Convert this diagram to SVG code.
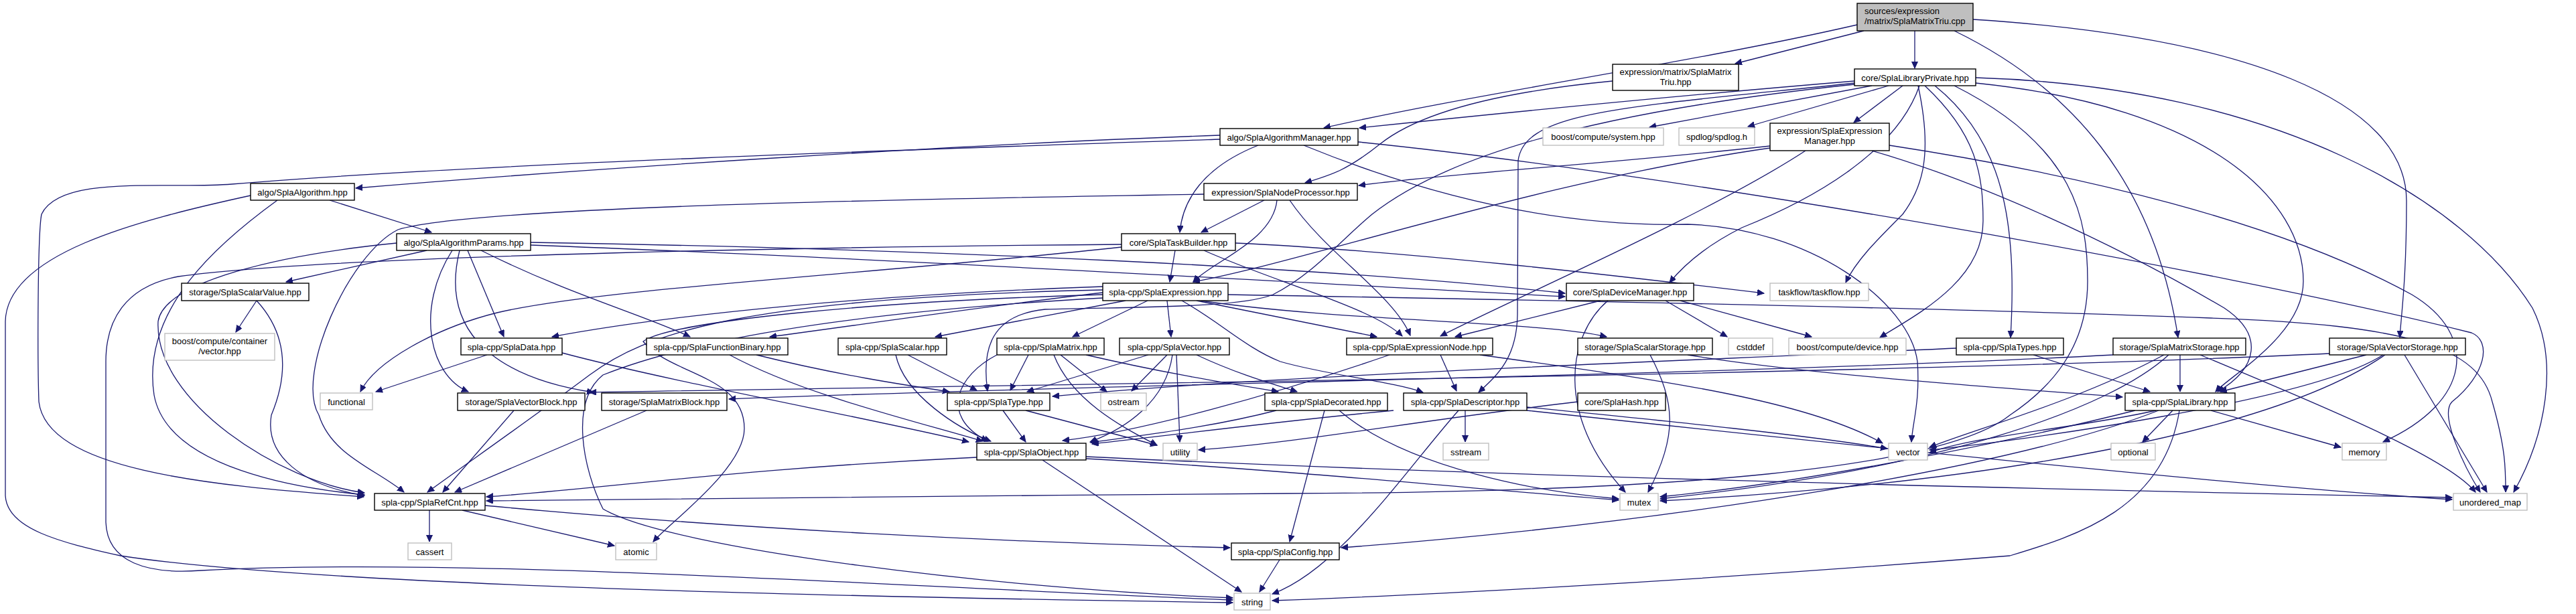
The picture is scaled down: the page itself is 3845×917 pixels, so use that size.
<svg xmlns="http://www.w3.org/2000/svg" width="3845" height="917" viewBox="0 0 3845 917">
<style>
.n rect{fill:#fff;stroke:#000;stroke-width:1.4}
.x rect{fill:#fff;stroke:#bfbfbf;stroke-width:1.4}
.r rect{fill:#bfbfbf;stroke:#000;stroke-width:1.4}
text{font-family:"Liberation Sans",Arial,sans-serif;font-size:13px;fill:#000;text-anchor:middle}
.l text{text-anchor:start}
#edges path{fill:none;stroke:#191970;stroke-width:1.3;marker-end:url(#a)}
</style>
<defs>
<marker id="a" markerWidth="12" markerHeight="10" refX="10" refY="4.5" orient="auto" markerUnits="userSpaceOnUse"><path d="M0,0 L10,4.5 L0,9 z" fill="#191970" stroke="#191970" stroke-width="1"/></marker>
</defs>
<rect width="3845" height="917" fill="#fff"/>
<g id="edges">
<path d="M2772,37 C2520,95 2200,140 1976,191"/>
<path d="M2782,46 L2590,95"/>
<path d="M2858,46 L2858,102"/>
<path d="M2917,46 C3090,130 3215,270 3251,504"/>
<path d="M2945,29 C3350,55 3592,150 3592,300 C3592,420 3584,470 3582,504"/>
<path d="M2407,121 C2210,140 2110,175 2060,215 C2010,255 1985,262 1948,273"/>
<path d="M2768,121 C2480,145 2230,170 2029,191"/>
<path d="M2794,128 L2462,190"/>
<path d="M2819,128 L2609,189"/>
<path d="M2840,128 L2767,183"/>
<path d="M2768,124 C2430,160 2275,165 2266,240 L2265,470 C2264,535 2235,560 2207,586"/>
<path d="M2768,126 C2350,170 2150,240 2048,320 C2000,360 1960,410 1900,440 C1850,460 1700,458 1560,462 C1480,470 1465,520 1474,584"/>
<path d="M2865,128 C2830,230 2700,300 2600,340 C2540,370 2510,400 2492,422"/>
<path d="M2863,128 C2885,230 2870,280 2840,320 C2800,360 2770,390 2755,422"/>
<path d="M2873,128 C2950,200 2960,260 2960,330 C2960,420 2860,470 2806,504"/>
<path d="M2888,128 C2990,210 3011,330 3001,504"/>
<path d="M2917,128 C3100,220 3116,330 3116,420 C3116,520 3060,580 3000,620 C2900,700 2500,735 1920,737 C1500,740 1000,745 726,748"/>
<path d="M2949,124 C3300,160 3438,300 3438,420 C3438,500 3330,560 3307,585"/>
<path d="M2949,116 C3400,130 3680,300 3780,460 C3820,540 3800,650 3752,735"/>
<path d="M1821,202 C1450,215 900,250 531,281"/>
<path d="M1821,208 C1400,222 700,245 346,275 C250,283 90,260 62,320 C56,350 56,540 58,600 C70,700 300,725 543,742"/>
<path d="M1878,217 C1795,250 1765,300 1761,347"/>
<path d="M2027,212 C2500,260 3300,400 3689,497 C3720,510 3710,560 3660,600 C3640,620 3680,700 3702,735"/>
<path d="M1946,217 C2100,280 2300,340 2519,335 C2700,340 2850,450 2862,540 C2866,600 2855,630 2853,660"/>
<path d="M1887,299 L1793,347"/>
<path d="M1906,299 C1900,360 1810,390 1781,421"/>
<path d="M1925,299 C1980,380 2080,440 2105,501"/>
<path d="M1797,290 C1300,298 700,310 594,343 C520,380 440,560 476,620 C495,680 560,700 603,735"/>
<path d="M2642,218 C2400,245 2150,260 2028,277"/>
<path d="M2642,221 C2300,270 1950,390 1781,421"/>
<path d="M2695,225 C2550,320 2250,450 2150,502"/>
<path d="M2794,225 C2950,270 3150,360 3320,460 C3380,500 3370,550 3310,585"/>
<path d="M2820,217 C3100,260 3400,330 3600,440 C3700,500 3690,600 3557,660"/>
<path d="M492,299 L644,347"/>
<path d="M374,292 C200,330 10,380 8,480 L8,740 C10,790 90,810 180,830 C500,880 1500,895 1840,900"/>
<path d="M414,299 C330,360 210,460 230,590 C250,700 450,730 544,739"/>
<path d="M637,374 L427,421"/>
<path d="M698,374 L752,503"/>
<path d="M718,374 C850,440 960,470 1030,503"/>
<path d="M675,374 C620,460 640,560 699,585"/>
<path d="M686,374 C650,520 780,570 886,586"/>
<path d="M592,363 C420,380 245,420 236,480 C230,600 420,720 544,736"/>
<path d="M792,362 C1400,372 2000,400 2336,438"/>
<path d="M792,366 C1300,385 1900,420 2336,443"/>
<path d="M1754,374 L1746,421"/>
<path d="M1844,363 C2100,375 2400,410 2633,438"/>
<path d="M1674,369 C1300,410 900,430 742,467 C650,490 560,540 538,585"/>
<path d="M1674,365 C1300,368 500,380 266,413 C185,428 158,480 158,540 L158,780 C160,840 220,858 300,852 C700,830 1400,880 1840,896"/>
<path d="M1797,374 C1900,420 2050,460 2093,502"/>
<path d="M383,449 L352,496"/>
<path d="M383,449 C430,500 430,560 405,620 C395,680 450,725 544,740"/>
<path d="M1646,428 C1300,440 1000,470 824,503"/>
<path d="M1646,437 C1450,460 1250,490 1149,503"/>
<path d="M1680,449 L1396,503"/>
<path d="M1713,449 L1601,503"/>
<path d="M1742,449 L1748,503"/>
<path d="M1646,433 C1100,445 960,500 880,560 C800,620 700,690 638,735"/>
<path d="M1764,449 C1820,480 1860,520 1911,540 C1980,560 2080,570 2124,586"/>
<path d="M1786,449 L2055,503"/>
<path d="M1792,449 C2000,480 2300,480 2398,503"/>
<path d="M1833,440 C2300,448 2900,460 3300,475 C3600,485 3700,520 3720,600 C3740,670 3740,700 3740,735"/>
<path d="M1646,440 C1300,450 1000,480 960,510 C1000,560 1111,560 1111,640 C1111,700 1000,780 975,809"/>
<path d="M1646,445 C1200,470 1000,520 900,560 C850,600 870,700 900,760 C1000,820 1500,880 1840,893"/>
<path d="M727,530 L561,585"/>
<path d="M839,527 C1000,570 1300,625 1446,660"/>
<path d="M1129,530 C1250,560 1350,575 1417,585"/>
<path d="M1089,530 C1200,590 1370,630 1467,659"/>
<path d="M1355,530 L1458,583"/>
<path d="M1337,530 C1350,590 1430,640 1479,659"/>
<path d="M1535,530 L1508,583"/>
<path d="M1488,530 C1430,560 1400,620 1474,659"/>
<path d="M1583,530 L1652,585"/>
<path d="M1573,530 C1600,600 1680,640 1727,665"/>
<path d="M1621,530 C1750,560 1850,575 1908,585"/>
<path d="M1714,530 L1533,585"/>
<path d="M1742,530 L1689,584"/>
<path d="M1756,530 L1761,660"/>
<path d="M1750,530 C1740,600 1680,640 1627,660"/>
<path d="M1786,530 C1850,560 1905,575 1936,585"/>
<path d="M2074,530 C1900,590 1700,645 1586,658"/>
<path d="M2150,530 L2174,584"/>
<path d="M2209,530 C2500,570 2700,600 2810,662"/>
<path d="M2389,449 L2172,503"/>
<path d="M2486,449 L2578,503"/>
<path d="M2508,449 L2704,503"/>
<path d="M2400,449 C2340,500 2320,620 2426,735"/>
<path d="M2463,530 C2500,600 2505,650 2460,735"/>
<path d="M2519,530 C2700,560 3000,580 3168,593"/>
<path d="M3035,530 L3209,585"/>
<path d="M2920,520 C2500,540 1900,560 1571,592"/>
<path d="M3254,530 L3254,585"/>
<path d="M3154,530 C2600,560 1600,575 1088,596"/>
<path d="M3230,530 C3100,600 2950,640 2880,668"/>
<path d="M3237,530 C3150,610 2900,700 2478,745"/>
<path d="M3284,530 C3450,600 3650,680 3695,735"/>
<path d="M3532,530 L3314,585"/>
<path d="M3477,528 C2800,560 1500,575 880,586"/>
<path d="M3557,530 C3450,600 3000,660 2880,672"/>
<path d="M3560,530 C3400,640 3000,720 2478,748"/>
<path d="M3589,530 L3712,735"/>
<path d="M3218,613 C3100,640 2950,650 2880,676"/>
<path d="M3187,613 C3000,660 2700,720 2478,742"/>
<path d="M3222,613 C3000,700 2500,780 2002,818"/>
<path d="M3253,613 C3230,760 3100,800 3000,830 C2500,870 2100,890 1899,897"/>
<path d="M3243,613 L3198,660"/>
<path d="M3300,613 L3494,668"/>
<path d="M1497,613 L1531,660"/>
<path d="M1531,613 L1727,665"/>
<path d="M1905,613 C1800,640 1700,650 1628,661"/>
<path d="M1977,613 L1925,809"/>
<path d="M1999,613 C2100,700 2300,735 2416,745"/>
<path d="M2080,613 C1900,630 1750,650 1630,663"/>
<path d="M2187,613 L2187,660"/>
<path d="M2177,613 C2100,700 2000,850 1899,887"/>
<path d="M2279,608 C2500,630 2700,650 2817,670"/>
<path d="M2279,613 C2900,680 3400,730 3660,746"/>
<path d="M2355,600 C2100,630 1950,660 1789,672"/>
<path d="M1458,683 C1100,700 900,730 726,742"/>
<path d="M1556,687 L1853,884"/>
<path d="M1621,685 C1900,700 2200,730 2416,747"/>
<path d="M1621,682 C2200,710 3000,730 3660,743"/>
<path d="M641,762 L641,809"/>
<path d="M690,762 L917,815"/>
<path d="M724,755 C1100,790 1500,810 1836,818"/>
<path d="M1910,836 L1880,884"/>
<path d="M767,613 L661,735"/>
<path d="M965,613 L679,735"/>
</g>
<g id="n-cpp" class="r l"><rect x="2772" y="5" width="173" height="41"/><text x="2783" y="21">sources/expression</text><text x="2783" y="36">/matrix/SplaMatrixTriu.cpp</text></g>
<g id="n-triu" class="n"><rect x="2407" y="96" width="188" height="39"/><text x="2501" y="112">expression/matrix/SplaMatrix</text><text x="2501" y="127">Triu.hpp</text></g>
<g id="n-libpriv" class="n"><rect x="2768" y="103" width="181" height="25"/><text x="2858.5" y="120.5">core/SplaLibraryPrivate.hpp</text></g>
<g id="n-algomgr" class="n"><rect x="1821" y="192" width="206" height="25"/><text x="1924" y="209.5">algo/SplaAlgorithmManager.hpp</text></g>
<g id="n-bsys" class="x"><rect x="2303" y="191" width="180" height="26"/><text x="2393" y="208.5">boost/compute/system.hpp</text></g>
<g id="n-spdlog" class="x"><rect x="2506" y="191" width="113" height="26"/><text x="2562.5" y="208.5">spdlog/spdlog.h</text></g>
<g id="n-exprmgr" class="n"><rect x="2642" y="184" width="178" height="41"/><text x="2731" y="200">expression/SplaExpression</text><text x="2731" y="215">Manager.hpp</text></g>
<g id="n-algo" class="n"><rect x="374" y="274" width="155" height="25"/><text x="451.5" y="291.5">algo/SplaAlgorithm.hpp</text></g>
<g id="n-nodeproc" class="n"><rect x="1797" y="274" width="229" height="25"/><text x="1911.5" y="291.5">expression/SplaNodeProcessor.hpp</text></g>
<g id="n-params" class="n"><rect x="592" y="349" width="200" height="25"/><text x="692" y="366.5">algo/SplaAlgorithmParams.hpp</text></g>
<g id="n-task" class="n"><rect x="1674" y="349" width="170" height="25"/><text x="1759" y="366.5">core/SplaTaskBuilder.hpp</text></g>
<g id="n-scalval" class="n"><rect x="271" y="423" width="190" height="26"/><text x="366" y="440.5">storage/SplaScalarValue.hpp</text></g>
<g id="n-expr" class="n"><rect x="1646" y="423" width="187" height="26"/><text x="1739.5" y="440.5">spla-cpp/SplaExpression.hpp</text></g>
<g id="n-devmgr" class="n"><rect x="2338" y="423" width="190" height="26"/><text x="2433" y="440.5">core/SplaDeviceManager.hpp</text></g>
<g id="n-taskflow" class="x"><rect x="2642" y="423" width="147" height="26"/><text x="2715.5" y="440.5">taskflow/taskflow.hpp</text></g>
<g id="n-bcvec" class="x"><rect x="246" y="498" width="164" height="40"/><text x="328" y="514">boost/compute/container</text><text x="328" y="529">/vector.hpp</text></g>
<g id="n-data" class="n"><rect x="688" y="505" width="151" height="25"/><text x="763.5" y="522.5">spla-cpp/SplaData.hpp</text></g>
<g id="n-fbin" class="n"><rect x="965" y="505" width="211" height="25"/><text x="1070.5" y="522.5">spla-cpp/SplaFunctionBinary.hpp</text></g>
<g id="n-scalar" class="n"><rect x="1251" y="505" width="162" height="25"/><text x="1332" y="522.5">spla-cpp/SplaScalar.hpp</text></g>
<g id="n-matrix" class="n"><rect x="1488" y="505" width="160" height="25"/><text x="1568" y="522.5">spla-cpp/SplaMatrix.hpp</text></g>
<g id="n-vectorh" class="n"><rect x="1671" y="505" width="164" height="25"/><text x="1753" y="522.5">spla-cpp/SplaVector.hpp</text></g>
<g id="n-exprnode" class="n"><rect x="2010" y="505" width="218" height="25"/><text x="2119" y="522.5">spla-cpp/SplaExpressionNode.hpp</text></g>
<g id="n-scalstor" class="n"><rect x="2355" y="505" width="201" height="25"/><text x="2455.5" y="522.5">storage/SplaScalarStorage.hpp</text></g>
<g id="n-cstddef" class="x"><rect x="2580" y="505" width="66" height="25"/><text x="2613" y="522.5">cstddef</text></g>
<g id="n-bdev" class="x"><rect x="2670" y="505" width="175" height="25"/><text x="2757.5" y="522.5">boost/compute/device.hpp</text></g>
<g id="n-types" class="n"><rect x="2920" y="505" width="160" height="25"/><text x="3000" y="522.5">spla-cpp/SplaTypes.hpp</text></g>
<g id="n-matstor" class="n"><rect x="3154" y="505" width="198" height="25"/><text x="3253" y="522.5">storage/SplaMatrixStorage.hpp</text></g>
<g id="n-vecstor" class="n"><rect x="3477" y="505" width="203" height="25"/><text x="3578.5" y="522.5">storage/SplaVectorStorage.hpp</text></g>
<g id="n-functional" class="x"><rect x="478" y="587" width="78" height="25"/><text x="517" y="604.5">functional</text></g>
<g id="n-vblock" class="n"><rect x="683" y="587" width="190" height="26"/><text x="778" y="604.5">storage/SplaVectorBlock.hpp</text></g>
<g id="n-mblock" class="n"><rect x="898" y="587" width="187" height="26"/><text x="991.5" y="604.5">storage/SplaMatrixBlock.hpp</text></g>
<g id="n-type" class="n"><rect x="1414" y="587" width="153" height="26"/><text x="1490.5" y="604.5">spla-cpp/SplaType.hpp</text></g>
<g id="n-ostream" class="x"><rect x="1643" y="587" width="68" height="26"/><text x="1677" y="604.5">ostream</text></g>
<g id="n-decor" class="n"><rect x="1888" y="587" width="183" height="26"/><text x="1979.5" y="604.5">spla-cpp/SplaDecorated.hpp</text></g>
<g id="n-desc" class="n"><rect x="2095" y="587" width="184" height="26"/><text x="2187" y="604.5">spla-cpp/SplaDescriptor.hpp</text></g>
<g id="n-hash" class="n"><rect x="2355" y="587" width="131" height="26"/><text x="2420.5" y="604.5">core/SplaHash.hpp</text></g>
<g id="n-lib" class="n"><rect x="3172" y="587" width="164" height="26"/><text x="3254" y="604.5">spla-cpp/SplaLibrary.hpp</text></g>
<g id="n-object" class="n"><rect x="1458" y="662" width="163" height="25"/><text x="1539.5" y="679.5">spla-cpp/SplaObject.hpp</text></g>
<g id="n-utility" class="x"><rect x="1736" y="662" width="51" height="25"/><text x="1761.5" y="679.5">utility</text></g>
<g id="n-sstream" class="x"><rect x="2154" y="662" width="68" height="25"/><text x="2188" y="679.5">sstream</text></g>
<g id="n-vec" class="x"><rect x="2819" y="662" width="58" height="25"/><text x="2848" y="679.5">vector</text></g>
<g id="n-optional" class="x"><rect x="3151" y="662" width="66" height="25"/><text x="3184" y="679.5">optional</text></g>
<g id="n-memory" class="x"><rect x="3496" y="662" width="66" height="25"/><text x="3529" y="679.5">memory</text></g>
<g id="n-refcnt" class="n"><rect x="559" y="737" width="165" height="25"/><text x="641.5" y="754.5">spla-cpp/SplaRefCnt.hpp</text></g>
<g id="n-mutex" class="x"><rect x="2418" y="737" width="57" height="25"/><text x="2446.5" y="754.5">mutex</text></g>
<g id="n-umap" class="x"><rect x="3662" y="737" width="110" height="25"/><text x="3717" y="754.5">unordered_map</text></g>
<g id="n-cassert" class="x"><rect x="609" y="811" width="65" height="25"/><text x="641.5" y="828.5">cassert</text></g>
<g id="n-atomic" class="x"><rect x="919" y="811" width="61" height="25"/><text x="949.5" y="828.5">atomic</text></g>
<g id="n-config" class="n"><rect x="1838" y="811" width="161" height="25"/><text x="1918.5" y="828.5">spla-cpp/SplaConfig.hpp</text></g>
<g id="n-string" class="x"><rect x="1842" y="886" width="54" height="25"/><text x="1869" y="903.5">string</text></g>
</svg>
